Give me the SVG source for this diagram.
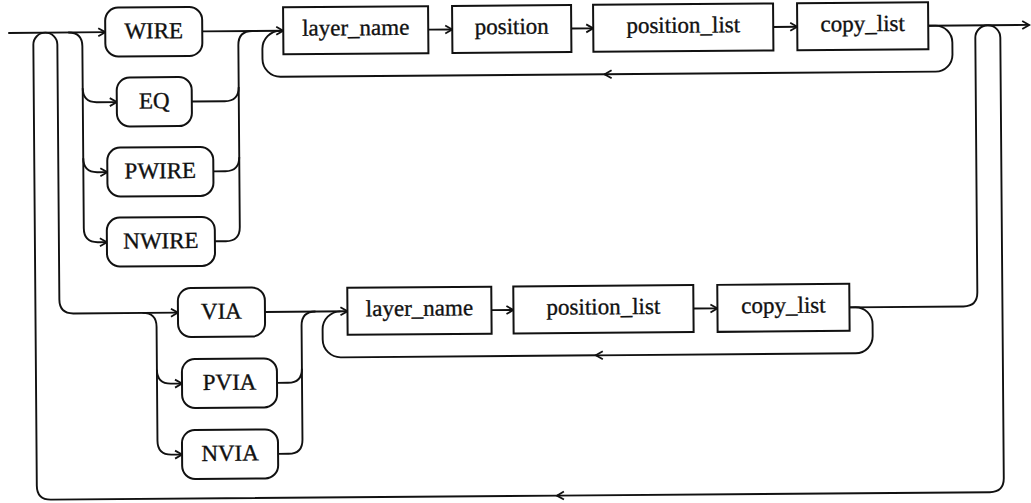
<svg xmlns="http://www.w3.org/2000/svg" width="1031" height="503" viewBox="0 0 1031 503">
<style>
.bx{fill:#fff;stroke:#111;stroke-width:2}
.ln{fill:none;stroke:#111;stroke-width:1.9}
.ar{marker-end:url(#ah)}
text{font-family:"Liberation Serif","Times New Roman",serif;font-size:23px;fill:#111;stroke:#111;stroke-width:0.35;text-anchor:middle}
</style>
<defs>
<marker id="ah" viewBox="-9 -6 11 12" refX="0" refY="0" markerWidth="11" markerHeight="12" markerUnits="userSpaceOnUse" orient="auto">
<path d="M-7,-4 L0,0 L-7,4" fill="none" stroke="#111" stroke-width="1.8"/>
</marker>
</defs>
<rect width="1031" height="503" fill="#fff"/>
<g transform="rotate(-0.45)">
<g id="connectors">
<path class="ln ar" d="M8,33 H105"/>
<path class="ln ar" d="M928,33 H1029"/>
<path class="ln ar" d="M202,33 H283"/>
<path class="ln ar" d="M428,33 H452"/>
<path class="ln ar" d="M571,33 H593"/>
<path class="ln ar" d="M773,33 H797"/>
<path class="ln ar" d="M68,33 Q82,33 82,47 V229 Q82,243 96,243 H105"/>
<path class="ln ar" d="M82,89 Q82,103 96,103 H116"/>
<path class="ln ar" d="M82,159 Q82,173 96,173 H106"/>
<path class="ln" d="M213,243 H224 Q238,243 238,229 V47 Q238,33 252,33"/>
<path class="ln" d="M191,103 H224 Q238,103 238,89"/>
<path class="ln" d="M212,173 H224 Q238,173 238,159"/>
<path class="ln ar" d="M928,33 H935 A17,17 0 0 1 952,50 V62 A17,17 0 0 1 935,79 H604"/>
<path class="ln" d="M606,79 H280 A18,18 0 0 1 262,61 V51 A18,18 0 0 1 280,33"/>
<path class="ln ar" d="M45,33 A12,12 0 0 1 57,45 V300 Q57,314 71,314 H175.5"/>
<path class="ln ar" d="M140,314 Q154,314 154,328 V442 Q154,456 168,456 H178.5"/>
<path class="ln ar" d="M154,371 Q154,385 168,385 H179"/>
<path class="ln ar" d="M262.5,314 H345"/>
<path class="ln" d="M274.5,456 H285 Q299,456 299,442 V328 Q299,314 313,314"/>
<path class="ln" d="M274,385 H285 Q299,385 299,371"/>
<path class="ln ar" d="M489,314 H511"/>
<path class="ln ar" d="M691,314 H715"/>
<path class="ln ar" d="M847,314 H853 A17,17 0 0 1 870,331 V343 A17,17 0 0 1 853,360 H593"/>
<path class="ln" d="M595,360 H338 A18,18 0 0 1 320,342 V332 A18,18 0 0 1 338,314"/>
<path class="ln" d="M847,314 H961 Q975,314 975,300 V45.5 A12.5,12.5 0 0 1 987.5,33"/>
<path class="ln ar" d="M987.5,33 A12.5,12.5 0 0 1 1000,45.5 V486 Q1000,500 986,500 H553"/>
<path class="ln" d="M555,500 H47 Q33,500 33,486 V45 A12,12 0 0 1 45,33"/>
</g>
<g id="n-wire"><rect class="bx" x="105" y="8.5" width="97" height="49" rx="13"/><text x="153.5" y="39.5">WIRE</text></g>
<g id="n-eq"><rect class="bx" x="116" y="78.5" width="75" height="49" rx="13"/><text x="153.5" y="109.5">EQ</text></g>
<g id="n-pwire"><rect class="bx" x="106" y="148.5" width="106" height="49" rx="13"/><text x="159" y="179.5">PWIRE</text></g>
<g id="n-nwire"><rect class="bx" x="105" y="218.5" width="108" height="49" rx="13"/><text x="159" y="249.5">NWIRE</text></g>
<g id="n-via"><rect class="bx" x="175.5" y="289.5" width="87" height="49" rx="13"/><text x="219" y="320.5">VIA</text></g>
<g id="n-pvia"><rect class="bx" x="179" y="360.5" width="95" height="49" rx="13"/><text x="226.5" y="391.5">PVIA</text></g>
<g id="n-nvia"><rect class="bx" x="178.5" y="431.5" width="96" height="49" rx="13"/><text x="226.5" y="462.5">NVIA</text></g>
<g id="n-layer1"><rect class="bx" x="283" y="9.5" width="145" height="47"/><text x="355.5" y="38">layer_name</text></g>
<g id="n-position"><rect class="bx" x="452" y="9.5" width="119" height="47"/><text x="511.5" y="38">position</text></g>
<g id="n-poslist1"><rect class="bx" x="593" y="9.5" width="180" height="47"/><text x="683" y="38">position_list</text></g>
<g id="n-copy1"><rect class="bx" x="797" y="9.5" width="131" height="47"/><text x="862.5" y="38">copy_list</text></g>
<g id="n-layer2"><rect class="bx" x="345" y="290.5" width="144" height="47"/><text x="417" y="319">layer_name</text></g>
<g id="n-poslist2"><rect class="bx" x="511" y="290.5" width="180" height="47"/><text x="601" y="319">position_list</text></g>
<g id="n-copy2"><rect class="bx" x="715" y="290.5" width="132" height="47"/><text x="781" y="319">copy_list</text></g>
</g>
</svg>
